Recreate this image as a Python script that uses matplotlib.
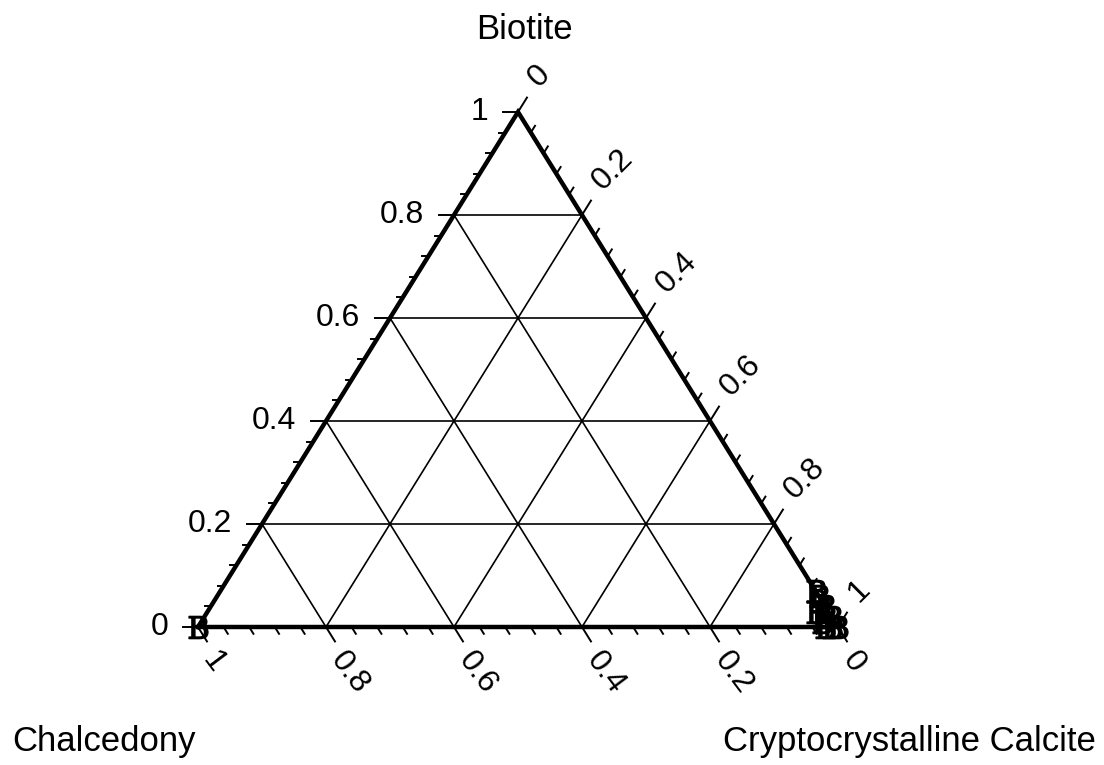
import matplotlib
matplotlib.use("Agg")
import matplotlib.pyplot as plt
import numpy as np

plt.rcParams['font.family'] = ['Liberation Sans', 'DejaVu Sans']
plt.rcParams['mathtext.fontset'] = 'dejavuserif'

# sample compositions: (Chalcedony, Biotite, Cryptocrystalline Calcite)
chalcedony = [1.00, 0.00, 0.02, 0.00, 0.00, 0.01, 0.02, 0.00, 0.01, 0.00, 0.02]
biotite = [0.00, 0.00, 0.00, 0.02, 0.04, 0.03, 0.01, 0.06, 0.00, 0.07, 0.03]
calcite = [0.00, 1.00, 0.98, 0.98, 0.96, 0.96, 0.97, 0.94, 0.99, 0.93, 0.95]

tick_values = [0, 0.2, 0.4, 0.6, 0.8, 1]
tick_labels = ['0', '0.2', '0.4', '0.6', '0.8', '1']
minor_values = np.arange(0, 1.0001, 0.04)

# triangle corners in figure pixels (y down)
TOP = np.array([518.0, 112.0])
LEFT = np.array([198.0, 627.0])
RIGHT = np.array([838.0, 627.0])


def to_xy(a, b, c):
    a, b, c = np.asarray(a), np.asarray(b), np.asarray(c)
    s = a + b + c
    x = (a * LEFT[0] + b * TOP[0] + c * RIGHT[0]) / s
    y = (a * LEFT[1] + b * TOP[1] + c * RIGHT[1]) / s
    return x, y


def is_major(v):
    r = round(v / 0.2, 6)
    return abs(r - round(r)) < 1e-6


fig = plt.figure(figsize=(11.04, 7.65), dpi=100)
ax = fig.add_axes([0, 0, 1, 1])
ax.set_xlim(0, 1104)
ax.set_ylim(765, 0)
ax.axis('off')

k = 'black'
fs_tick = 23
fs_title = 25

# grid lines
for v in tick_values[1:-1]:
    # constant biotite
    x, y = to_xy([1 - v, 0], [v, v], [0, 1 - v])
    ax.plot(x, y, color=k, lw=1.2)
    # constant chalcedony
    x, y = to_xy([v, v], [1 - v, 0], [0, 1 - v])
    ax.plot(x, y, color=k, lw=1.2)
    # constant calcite
    x, y = to_xy([1 - v, 0], [0, 1 - v], [v, v])
    ax.plot(x, y, color=k, lw=1.2)

# outline
x, y = to_xy([1, 0, 0, 1], [0, 1, 0, 0], [0, 0, 1, 0])
ax.plot(x, y, color=k, lw=3.2, solid_joinstyle='miter')

d_right = (RIGHT - TOP) / np.linalg.norm(RIGHT - TOP)   # down-right
d_left = (TOP - LEFT) / np.linalg.norm(TOP - LEFT)      # up-right

# left axis: Biotite
for v in minor_values:
    px, py = to_xy(1 - v, v, 0)
    ln = 15 if is_major(v) else 6
    ax.plot([px, px - ln], [py, py], color=k, lw=1.4)
for v, lab in zip(tick_values, tick_labels):
    px, py = to_xy(1 - v, v, 0)
    ax.text(px - 30, py, lab, ha='right', va='center', fontsize=fs_tick)

# bottom axis: Chalcedony
for v in minor_values:
    px, py = to_xy(v, 0, 1 - v)
    ln = 17 if is_major(v) else 8
    ax.plot([px, px + ln * d_right[0]], [py, py + ln * d_right[1]], color=k, lw=1.4)
for v, lab in zip(tick_values, tick_labels):
    px, py = to_xy(v, 0, 1 - v)
    ax.text(px + 10, py + 28, lab, ha='left', va='center', fontsize=fs_tick,
            rotation=-53, rotation_mode='anchor')

# right axis: Cryptocrystalline Calcite
for v in minor_values:
    px, py = to_xy(0, 1 - v, v)
    ln = 17 if is_major(v) else 8
    ax.plot([px, px + ln * d_left[0]], [py, py + ln * d_left[1]], color=k, lw=1.4)
for v, lab in zip(tick_values, tick_labels):
    px, py = to_xy(0, 1 - v, v)
    ax.text(px + 15, py - 30, lab, ha='left', va='center', fontsize=fs_tick,
            rotation=45, rotation_mode='anchor')

# samples
x, y = to_xy(chalcedony, biotite, calcite)
ax.plot(x, y, linestyle='none', marker=r'$\mathrm{B}$', markersize=16,
        color=k, markeredgewidth=1.0)

# vertex names
ax.text(524, 29, 'Biotite', ha='center', va='center', fontsize=fs_title)
ax.text(12, 742, 'Chalcedony', ha='left', va='center', fontsize=fs_title)
ax.text(1096, 742, 'Cryptocrystalline Calcite', ha='right', va='center', fontsize=fs_title)

fig.savefig('out.png', dpi=100)
